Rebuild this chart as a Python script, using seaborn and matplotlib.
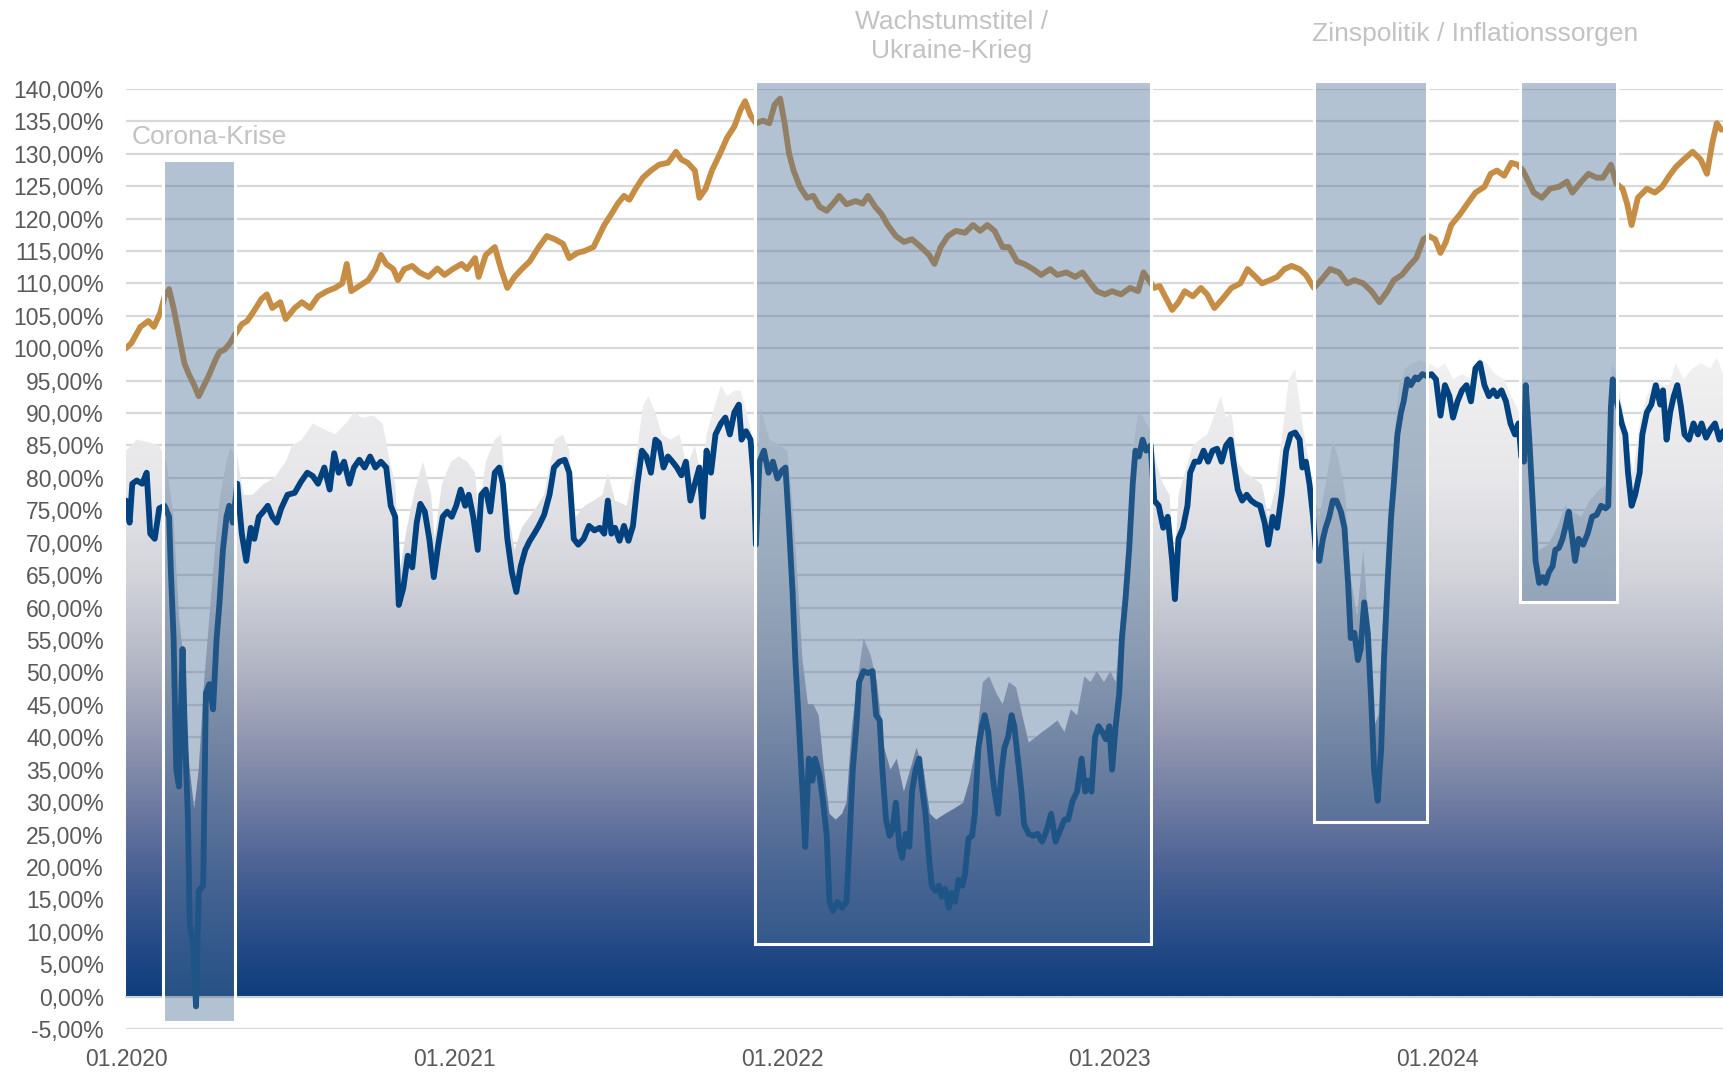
import numpy as np
import pandas as pd
import matplotlib
matplotlib.use("Agg")
import matplotlib.pyplot as plt
import matplotlib.dates as mdates
from matplotlib.patches import Rectangle, PathPatch
from matplotlib.colors import LinearSegmentedColormap
import seaborn as sns

# ---------------- data (day offsets since 2020-01-01, values in %) ----------------
base_date = "2020-01-01"

gold_days = [0,6,16,25,31,38,43,48,53,59,
             65,70,76,81,87,93,99,104,110,116,
             121,129,135,141,151,157,163,172,178,188,
             196,205,214,224,233,241,246,251,260,270,
             278,284,290,298,303,310,319,327,337,347,
             355,364,374,380,389,393,401,411,418,425,
             433,441,450,460,469,478,487,494,503,511,
             521,527,533,541,548,555,561,568,576,585,
             594,604,613,619,626,634,639,646,653,662,
             670,678,685,690,696,702,710,717,723,729,
             734,739,744,751,759,766,773,781,788,795,
             803,813,821,827,835,842,849,858,867,876,
             886,895,901,908,916,925,935,944,952,960,
             968,977,984,993,1001,1011,1020,1030,1038,1048,
             1058,1066,1075,1082,1091,1099,1109,1119,1128,1134,
             1140,1146,1152,1158,1166,1173,1180,1189,1198,1205,
             1213,1222,1232,1242,1250,1259,1266,1275,1283,1291,
             1299,1308,1315,1324,1332,1342,1352,1361,1369,1379,
             1388,1397,1406,1413,1422,1430,1438,1446,1452,1459,
             1465,1471,1477,1487,1495,1504,1514,1521,1528,1536,
             1544,1551,1557,1563,1569,1578,1587,1597,1606,1612,
             1622,1630,1639,1646,1655,1661,1668,1673,1678,1685,
             1695,1704,1712,1720,1727,1736,1746,1755,1762,1768,
             1773,1778]
gold_vals = [100.0,100.8,103.3,104.2,103.3,105.4,108.0,109.1,106.2,102.0,
             97.7,96.0,94.3,92.6,94.3,96.0,98.0,99.4,99.8,100.8,
             102.0,103.7,104.2,105.4,107.6,108.3,106.2,107.1,104.5,106.2,
             107.1,106.2,108.0,108.8,109.3,110.0,113.0,108.8,109.6,110.5,
             112.2,114.4,113.0,112.2,110.5,112.2,112.7,111.7,111.0,112.3,
             111.3,112.2,113.0,112.2,113.9,111.0,114.4,115.6,112.2,109.3,
             111.0,112.2,113.4,115.6,117.3,116.8,116.1,113.9,114.7,115.0,
             115.6,117.3,119.0,120.7,122.3,123.5,122.9,124.6,126.3,127.4,
             128.3,128.6,130.3,129.1,128.6,127.4,123.2,124.6,127.4,130.0,
             132.5,134.2,136.8,138.1,135.9,134.7,135.1,134.7,137.6,138.5,
             134.7,130.0,127.4,124.9,123.2,123.5,121.8,121.2,122.3,123.5,
             122.2,122.7,122.3,123.5,121.8,120.7,119.0,117.3,116.4,116.8,
             115.6,114.4,113.0,115.6,117.3,118.1,117.8,119.0,118.1,119.0,
             118.1,115.6,115.6,113.4,113.0,112.2,111.3,112.2,111.3,111.7,
             111.0,111.7,110.0,108.8,108.3,108.8,108.3,109.3,108.8,111.7,
             110.5,109.3,109.6,108.0,105.9,107.1,108.8,108.0,109.3,108.3,
             106.2,107.6,109.3,110.0,112.2,111.0,110.0,110.5,111.0,112.2,
             112.7,112.2,111.3,109.3,110.5,112.2,111.7,110.0,110.5,110.0,
             108.8,107.1,108.8,110.5,111.3,112.7,113.9,116.8,117.3,116.8,
             114.7,116.4,119.0,120.7,122.3,124.0,124.9,126.9,127.4,126.6,
             128.6,128.3,127.4,125.7,124.0,123.2,124.6,124.9,125.7,124.0,
             125.7,126.9,126.3,126.3,128.3,125.4,124.6,122.3,119.0,123.2,
             124.6,124.0,124.9,126.6,127.9,129.1,130.3,129.1,126.9,131.7,
             134.7,133.7]

blue_days = [0,4,7,12,18,23,27,32,37,43,
             48,50,53,56,59,63,65,69,71,75,
             78,81,86,89,93,97,101,104,108,112,
             115,119,124,129,134,139,143,148,153,158,
             163,168,173,180,188,195,202,208,214,221,
             227,232,237,243,249,254,260,266,272,278,
             284,290,295,300,304,309,314,319,324,328,
             333,338,343,348,353,358,363,368,373,378,
             382,387,392,396,401,406,411,416,420,425,
             430,435,440,445,450,455,460,466,472,477,
             483,489,494,499,504,510,516,522,528,533,
             537,541,545,550,555,560,565,570,575,580,
             585,590,594,599,604,609,614,619,624,629,
             634,639,643,647,652,657,663,668,673,678,
             683,686,691,696,700,702,706,711,716,721,
             726,731,735,739,743,746,750,754,757,761,
             765,768,773,777,781,784,788,793,798,803,
             806,810,814,817,822,827,832,836,840,843,
             847,851,854,858,862,865,869,873,876,880,
             884,887,891,895,898,902,906,909,913,917,
             920,924,928,932,935,939,943,946,950,954,
             957,961,965,968,972,976,979,983,987,990,
             994,998,1001,1006,1011,1016,1021,1026,1031,1036,
             1041,1046,1050,1055,1060,1065,1069,1072,1076,1080,
             1084,1088,1092,1096,1099,1103,1107,1110,1114,1118,
             1122,1125,1129,1133,1137,1142,1146,1151,1156,1161,
             1166,1169,1173,1178,1183,1186,1191,1196,1201,1206,
             1211,1216,1221,1226,1231,1234,1239,1244,1249,1254,
             1259,1264,1269,1273,1278,1283,1288,1293,1298,1303,
             1308,1311,1315,1319,1323,1326,1330,1334,1337,1341,
             1345,1349,1354,1358,1362,1365,1369,1373,1376,1380,
             1384,1388,1391,1395,1399,1402,1406,1410,1413,1417,
             1421,1424,1428,1432,1437,1440,1445,1450,1455,1460,
             1465,1470,1475,1479,1484,1489,1494,1499,1504,1509,
             1514,1519,1524,1528,1533,1538,1543,1548,1552,1555,
             1558,1560,1564,1568,1571,1575,1579,1582,1586,1590,
             1593,1597,1601,1604,1608,1612,1615,1619,1624,1629,
             1634,1639,1644,1649,1652,1655,1657,1660,1663,1667,
             1671,1674,1678,1682,1687,1690,1695,1700,1705,1710,
             1713,1717,1721,1725,1729,1733,1737,1742,1747,1752,
             1756,1761,1766,1771,1776,1780]
blue_vals = [76.5,73.1,79.1,79.6,79.1,80.8,71.4,70.6,75.3,75.7,
             74.0,65.5,55.3,35.0,32.4,53.6,43.4,27.3,11.2,7.8,
             -1.5,16.3,17.1,46.8,48.2,44.3,55.3,60.4,68.9,74.0,
             75.7,73.1,79.1,71.4,67.2,72.3,70.6,74.0,74.8,75.7,
             74.0,73.1,75.3,77.4,77.7,79.4,80.8,80.3,79.1,81.6,
             78.2,83.8,80.8,82.5,79.1,81.6,82.8,81.6,83.3,81.6,
             82.5,81.6,75.7,74.0,60.4,63.0,68.0,66.2,73.1,76.0,
             74.8,70.6,64.7,69.7,74.0,74.8,74.0,75.7,78.2,75.7,
             77.4,74.0,68.9,77.4,78.2,74.8,80.8,81.6,79.1,70.6,
             65.5,62.4,66.4,68.9,70.3,71.4,72.6,74.3,77.4,81.6,
             82.5,82.8,80.8,70.6,69.7,70.6,72.6,71.9,72.3,71.4,
             76.5,71.4,72.3,70.3,72.6,70.3,72.6,79.1,84.2,83.3,
             80.8,85.9,85.4,81.6,83.3,82.5,81.6,80.4,82.5,76.5,
             79.1,81.6,74.0,84.2,80.8,86.7,88.4,89.3,86.7,90.1,
             91.3,85.9,87.2,85.9,79.1,69.7,82.5,84.2,80.8,82.5,
             79.9,81.1,81.6,72.3,62.1,51.9,41.7,31.6,23.1,36.7,
             33.3,36.7,34.1,29.9,24.8,14.6,13.2,14.6,13.7,14.6,
             23.1,35.0,41.7,48.5,50.2,49.9,50.2,43.4,42.6,35.0,
             27.3,24.8,25.6,29.9,23.1,21.4,25.1,23.1,31.6,35.0,
             36.7,32.4,28.2,21.4,17.1,16.3,17.1,15.4,16.6,13.7,
             16.0,14.6,18.0,17.1,18.8,24.4,24.8,28.2,38.4,41.7,
             43.4,40.8,35.0,31.6,28.2,35.0,38.4,40.0,43.4,41.7,
             36.7,31.6,26.5,25.1,24.8,25.1,23.9,25.6,28.2,23.9,
             25.6,27.3,27.3,30.2,31.6,36.7,31.6,33.3,31.6,40.0,
             41.7,40.8,39.7,41.7,35.0,41.7,46.8,55.3,61.3,68.9,
             79.1,84.2,83.3,85.9,84.2,85.0,76.5,75.7,72.3,74.0,
             67.2,61.3,70.6,72.3,75.7,80.8,82.5,82.5,84.2,82.5,
             84.2,84.5,82.5,85.0,85.9,82.8,78.2,76.5,77.4,76.5,
             76.0,75.7,73.1,69.7,74.0,72.3,77.4,84.2,86.7,87.0,
             85.9,81.6,82.5,79.1,74.0,68.9,67.2,70.6,72.3,74.0,
             76.5,76.5,74.8,72.3,63.8,55.3,56.1,51.9,53.6,60.8,
             56.1,45.1,35.0,30.2,38.4,51.9,63.8,74.0,79.1,86.7,
             90.1,91.8,95.2,94.3,95.5,95.2,96.0,95.7,96.0,95.2,
             89.6,94.3,92.6,89.3,91.8,93.5,94.3,91.8,96.9,97.7,
             94.3,92.6,93.5,92.6,93.5,91.8,88.4,86.7,88.4,83.3,
             82.5,94.3,85.9,75.7,67.2,63.8,64.7,63.8,65.5,66.4,
             68.9,69.2,70.6,72.3,74.8,70.6,67.2,70.6,69.7,71.4,
             74.0,74.3,75.7,75.3,75.7,91.0,95.2,92.6,91.0,88.4,
             86.7,80.8,75.7,77.4,80.8,86.7,90.1,91.3,94.3,91.3,
             93.5,85.9,90.1,92.6,94.3,91.0,86.7,85.9,88.4,86.7,
             88.4,86.2,87.5,88.4,85.9,87.2]

env_days = [0,12,25,37,45,53,59,65,71,76,
            81,87,93,99,105,112,116,124,131,141,
            153,165,178,185,196,208,221,233,245,254,
            263,276,286,294,300,305,313,322,331,340,
            344,352,362,371,380,389,393,401,411,418,
            425,433,441,454,466,478,487,494,501,511,
            521,531,537,545,558,568,576,582,590,597,
            607,617,625,634,641,647,656,663,670,678,
            685,693,699,702,707,717,729,737,742,748,
            754,760,766,772,778,784,791,798,803,809,
            815,822,830,837,845,852,859,867,874,881,
            889,896,903,913,923,933,940,947,955,962,
            970,977,984,992,999,1006,1014,1021,1030,1038,
            1046,1053,1060,1068,1075,1082,1090,1097,1103,1109,
            1115,1122,1128,1134,1141,1148,1156,1163,1168,1173,
            1180,1189,1197,1205,1212,1220,1226,1232,1239,1247,
            1256,1266,1273,1281,1288,1296,1303,1310,1318,1324,
            1330,1337,1345,1352,1359,1364,1372,1379,1386,1391,
            1396,1401,1407,1413,1419,1426,1434,1443,1452,1462,
            1470,1479,1489,1499,1508,1516,1526,1536,1544,1553,
            1558,1563,1569,1575,1585,1595,1604,1612,1622,1631,
            1642,1651,1656,1663,1673,1680,1688,1695,1704,1712,
            1720,1727,1736,1746,1755,1766,1773,1780]
env_vals = [84.2,85.9,85.5,85.0,82.5,74.0,58.7,45.1,35.0,29.0,
            35.0,48.5,58.7,68.9,77.4,82.5,84.5,83.3,77.4,77.4,
            79.0,80.0,82.5,85.0,85.9,88.4,87.5,86.7,88.4,90.1,
            89.3,89.6,88.4,82.5,79.0,65.5,72.3,78.2,82.5,77.4,
            70.6,79.0,82.5,83.3,82.5,80.8,74.0,82.5,85.9,86.7,
            75.7,68.9,72.3,74.8,77.4,85.9,86.7,84.2,74.0,75.7,
            76.5,77.4,80.8,76.5,75.7,82.5,91.0,92.6,90.1,86.7,
            85.9,86.7,81.6,85.0,79.0,86.7,91.0,94.3,92.6,93.5,
            93.5,89.3,85.9,75.7,90.8,85.9,85.0,84.2,77.4,65.5,
            51.9,45.1,45.1,43.4,35.0,28.2,27.3,28.2,29.9,41.7,
            48.5,55.3,52.6,48.5,38.4,35.0,36.7,31.6,35.0,38.4,
            35.0,28.2,27.3,28.2,29.0,29.9,33.3,38.4,48.5,49.4,
            46.8,45.1,48.5,47.7,43.4,39.2,40.0,40.8,41.7,42.6,
            40.8,44.3,43.4,49.4,48.5,50.2,48.5,50.2,48.5,58.7,
            68.9,84.2,90.1,89.3,87.5,82.5,79.0,77.4,65.5,77.4,
            80.8,85.0,85.9,86.7,89.3,92.6,89.3,90.1,82.5,80.8,
            80.0,79.0,74.0,78.2,85.9,95.2,96.9,89.3,82.5,77.4,
            74.0,79.0,85.9,82.5,77.4,65.5,58.7,68.9,55.3,41.7,
            43.4,58.7,72.3,85.9,94.3,96.9,97.7,98.1,97.7,96.9,
            97.7,95.2,96.0,95.2,98.6,97.7,96.0,95.2,92.6,90.1,
            96.0,89.3,77.4,68.9,69.7,72.3,75.7,74.8,74.0,76.5,
            78.2,79.0,97.7,95.2,85.9,80.8,89.3,92.6,95.2,94.3,
            94.3,97.7,95.2,96.9,97.7,96.9,98.6,96.0]

# highlighted phases
box_start = ["2020-02-11", "2021-12-02", "2023-08-17", "2024-04-03"]
box_end   = ["2020-05-01", "2023-02-16", "2023-12-21", "2024-07-20"]
box_low   = [-3.9, 8.1, 27.0, 60.9]
box_high  = [129.0, 141.2, 141.2, 141.2]

labels_text = ["Corona-Krise", "Wachstumstitel /\nUkraine-Krieg", "Zinspolitik / Inflationssorgen"]
labels_date = ["2020-01-07", "2022-07-09", "2024-02-13"]
labels_y    = [132.5, 148.1, 148.5]
labels_ha   = ["left", "center", "center"]

year_ticks = ["2020-01-01", "2021-01-01", "2022-01-01", "2023-01-01", "2024-01-01"]
y_ticks = list(range(-5, 141, 5))
x_end = "2024-11-16"

# ---------------- build frames ----------------
b0 = pd.Timestamp(base_date)
gold = pd.DataFrame({"date": b0 + pd.to_timedelta(gold_days, unit="D"), "val": gold_vals})
blue = pd.DataFrame({"date": b0 + pd.to_timedelta(blue_days, unit="D"), "val": blue_vals})
env = pd.DataFrame({"date": b0 + pd.to_timedelta(env_days, unit="D"), "val": env_vals})

# ---------------- style ----------------
sns.set_theme(style="white")
plt.rcParams["font.family"] = ["Liberation Sans", "DejaVu Sans"]

fig = plt.figure(figsize=(17.24, 10.72), dpi=100)
ax = fig.add_axes([0.0731, 0.0401, 0.9269, 0.877])

x0 = mdates.date2num(b0)
x1 = mdates.date2num(pd.Timestamp(x_end))

# grid lines
for yv in y_ticks:
    ax.axhline(yv, color="#d9d9d9", lw=1.6, zorder=0.5)

# gradient area
bx = mdates.date2num(blue["date"])
ex = mdates.date2num(env["date"])
grid_x = np.union1d(bx, ex)
top = np.maximum(np.interp(grid_x, ex, env["val"]), np.interp(grid_x, bx, blue["val"]))
top = np.maximum(top, 0)
stops = [(0.00, "#0f3d7c"), (0.08, "#254b87"), (0.18, "#455e92"), (0.28, "#6a77a0"),
         (0.40, "#9298b1"), (0.52, "#b5b8c6"), (0.65, "#d3d4db"), (0.80, "#e7e7ea"),
         (1.00, "#f2f2f2")]
cmap = LinearSegmentedColormap.from_list("grad", stops)
grad = np.linspace(0, 1, 600).reshape(-1, 1)
im = ax.imshow(grad, extent=[x0, x1, 0, 100], origin="lower", aspect="auto",
               cmap=cmap, zorder=1, interpolation="bilinear")
poly = ax.fill_between(grid_x, 0, top, facecolor="none", edgecolor="none")
clip = PathPatch(poly.get_paths()[0], transform=ax.transData, facecolor="none", edgecolor="none")
ax.add_patch(clip)
im.set_clip_path(clip)

# lines
sns.lineplot(data=gold, x="date", y="val", ax=ax, color="#c68d45", lw=4.2,
             estimator=None, zorder=3)
sns.lineplot(data=blue, x="date", y="val", ax=ax, color="#00427f", lw=4.2,
             estimator=None, zorder=3.5)

# boxes (translucent fill, white frame, faint shadow strip)
for s, e, lo, hi in zip(box_start, box_end, box_low, box_high):
    xs = mdates.date2num(pd.Timestamp(s))
    xe = mdates.date2num(pd.Timestamp(e))
    r = Rectangle((xs, lo), xe - xs, hi - lo, facecolor=(74/255, 111/255, 148/255, 0.42),
                  edgecolor="white", lw=2.2, zorder=5, clip_on=False)
    ax.add_patch(r)

# annotations
for t, d, yv, ha in zip(labels_text, labels_date, labels_y, labels_ha):
    ax.text(mdates.date2num(pd.Timestamp(d)), yv, t, ha=ha, va="center", fontsize=19,
            color="#c2c2c2", linespacing=1.25, zorder=6, clip_on=False)

# axes formatting
ax.set_xlim(x0, x1)
ax.set_ylim(-5, 140)
ax.set_yticks(y_ticks)
ax.set_yticklabels([f"{v:.2f}%".replace(".", ",") for v in y_ticks])
ax.set_xticks([mdates.date2num(pd.Timestamp(d)) for d in year_ticks])
ax.xaxis.set_major_formatter(mdates.DateFormatter("%m.%Y"))
ax.set_xlabel("")
ax.set_ylabel("")
for sp in ["left", "right", "top"]:
    ax.spines[sp].set_visible(False)
ax.spines["bottom"].set_position(("data", 0))
ax.spines["bottom"].set_color("#d0d0d0")
ax.spines["bottom"].set_linewidth(1.5)
ax.spines["bottom"].set_zorder(2)
ax.tick_params(axis="y", length=0, pad=16, labelsize=16.5, labelcolor="#595959")
ax.tick_params(axis="x", length=6, width=1.5, color="#d0d0d0", direction="out",
               pad=31, labelsize=16.5, labelcolor="#595959")
ax.set_facecolor("white")
ax.grid(False)

fig.savefig("out.png", dpi=100, facecolor="white")
